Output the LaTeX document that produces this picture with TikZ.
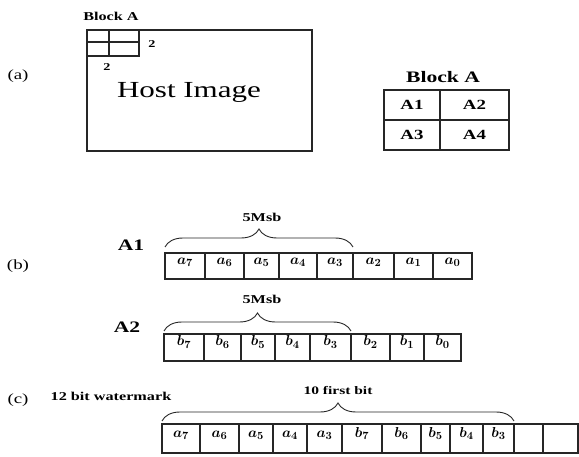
\documentclass[tikz,border=0pt]{standalone}
\usepackage{fontspec}
\setmainfont[FakeStretch=1.35]{Liberation Serif}
\usepackage{amsmath}
\usepackage{bm}
\usetikzlibrary{decorations.pathreplacing}
\tikzset{
  ln/.style={draw=black!85, line width=1.1pt},
  cell/.style={ln, rectangle, inner sep=0pt, minimum height=#1, text height=4pt, text depth=7pt, font=\fontsize{15}{15}\selectfont},
  lbl/.style={inner sep=0pt, font=\bfseries\fontsize{12}{12}\selectfont},
  biglbl/.style={inner sep=0pt, font=\bfseries\fontsize{16}{16}\selectfont},
  tbl/.style={ln, rectangle, inner sep=0pt, minimum height=30pt, font=\bfseries\fontsize{14}{14}\selectfont},
  part/.style={inner sep=0pt, font=\fontsize{14}{14}\selectfont},
  brc/.style={draw=black!85, line width=0.9pt, decorate, decoration={brace, amplitude=18pt}},
}
\newcommand{\bb}[1]{$\bm{#1}$}
\begin{document}
\begin{tikzpicture}[x=1pt,y=-1pt]
\useasboundingbox (0,0) rectangle (579,457);

% ---------- (a) ----------
\node[part] (pa) at (18,76) {(a)};
\node[lbl] (blkAsmall) at (111,16) {Block A};
\node[ln, rectangle, inner sep=0pt, minimum width=225pt, minimum height=121pt] (host) at (199.5,90.5) {};
\node[inner sep=0pt, font=\fontsize{23}{23}\selectfont] (hosttxt) at (189,92) {Host Image};
\node[ln, rectangle, inner sep=0pt, minimum width=52pt, minimum height=26pt] (grid) at (113,43) {};
\draw[ln] (109,30) -- (109,56);
\draw[ln] (87,42) -- (139,42);
\node[lbl, font=\bfseries\fontsize{10.5}{10.5}\selectfont] (two1) at (152,44) {2};
\node[lbl, font=\bfseries\fontsize{10.5}{10.5}\selectfont] (two2) at (107,67) {2};

% Block A table
\node[biglbl] (blkA) at (443,77) {Block A};
\node[tbl, minimum width=56pt] (A1c) at (412,105) {A1};
\node[tbl, minimum width=69pt] (A2c) at (474.5,105) {A2};
\node[tbl, minimum width=56pt] (A3c) at (412,135) {A3};
\node[tbl, minimum width=69pt] (A4c) at (474.5,135) {A4};

% ---------- (b) ----------
\node[part] (pb) at (18,266) {(b)};
\node[biglbl] (lA1) at (131,245) {A1};
\node[cell=26pt, minimum width=40pt] (a7) at (185,266) {\bb{a_7}};
\node[cell=26pt, minimum width=39pt] (a6) at (224.5,266) {\bb{a_6}};
\node[cell=26pt, minimum width=35pt] (a5) at (261.5,266) {\bb{a_5}};
\node[cell=26pt, minimum width=38pt] (a4) at (298,266) {\bb{a_4}};
\node[cell=26pt, minimum width=36pt] (a3) at (335,266) {\bb{a_3}};
\node[cell=26pt, minimum width=41pt] (a2) at (373.5,266) {\bb{a_2}};
\node[cell=26pt, minimum width=39pt] (a1) at (413.5,266) {\bb{a_1}};
\node[cell=26pt, minimum width=39pt] (a0) at (452.5,266) {\bb{a_0}};
\coordinate (bA1l) at (165,247);
\coordinate (bA1r) at (353,247);
\draw[brc] (bA1l) -- (bA1r);
\node[lbl] (msb1) at (262,217) {5Msb};

\node[biglbl] (lA2) at (127,327) {A2};
\node[cell=27pt, minimum width=40pt] (b7) at (184,347.5) {\bb{b_7}};
\node[cell=27pt, minimum width=37pt] (b6) at (222.5,347.5) {\bb{b_6}};
\node[cell=27pt, minimum width=34pt] (b5) at (258,347.5) {\bb{b_5}};
\node[cell=27pt, minimum width=35pt] (b4) at (292.5,347.5) {\bb{b_4}};
\node[cell=27pt, minimum width=41pt] (b3) at (330.5,347.5) {\bb{b_3}};
\node[cell=27pt, minimum width=39pt] (b2) at (370.5,347.5) {\bb{b_2}};
\node[cell=27pt, minimum width=34pt] (b1) at (407,347.5) {\bb{b_1}};
\node[cell=27pt, minimum width=37pt] (b0) at (442.5,347.5) {\bb{b_0}};
\coordinate (bA2l) at (164,331);
\coordinate (bA2r) at (351,331);
\draw[brc] (bA2l) -- (bA2r);
\node[lbl] (msb2) at (262,299) {5Msb};

% ---------- (c) ----------
\node[part] (pc) at (18,400) {(c)};
\node[lbl] (wm) at (111,396) {12 bit watermark};
\node[cell=29pt, minimum width=38pt] (c1) at (181,438.5) {\bb{a_7}};
\node[cell=29pt, minimum width=39pt] (c2) at (219.5,438.5) {\bb{a_6}};
\node[cell=29pt, minimum width=34pt] (c3) at (256,438.5) {\bb{a_5}};
\node[cell=29pt, minimum width=34pt] (c4) at (290,438.5) {\bb{a_4}};
\node[cell=29pt, minimum width=35pt] (c5) at (324.5,438.5) {\bb{a_3}};
\node[cell=29pt, minimum width=40pt] (c6) at (362,438.5) {\bb{b_7}};
\node[cell=29pt, minimum width=39pt] (c7) at (401.5,438.5) {\bb{b_6}};
\node[cell=29pt, minimum width=29pt] (c8) at (435.5,438.5) {\bb{b_5}};
\node[cell=29pt, minimum width=33pt] (c9) at (466.5,438.5) {\bb{b_4}};
\node[cell=29pt, minimum width=31pt] (c10) at (498.5,438.5) {\bb{b_3}};
\node[cell=29pt, minimum width=29pt] (c11) at (528.5,438.5) {};
\node[cell=29pt, minimum width=35pt] (c12) at (560.5,438.5) {};
\coordinate (bCl) at (162,421);
\coordinate (bCr) at (514,421);
\draw[brc] (bCl) -- (bCr);
\node[lbl, font=\bfseries\fontsize{11.5}{11.5}\selectfont] (first10) at (338,391) {10 first bit};
\end{tikzpicture}
\end{document}
